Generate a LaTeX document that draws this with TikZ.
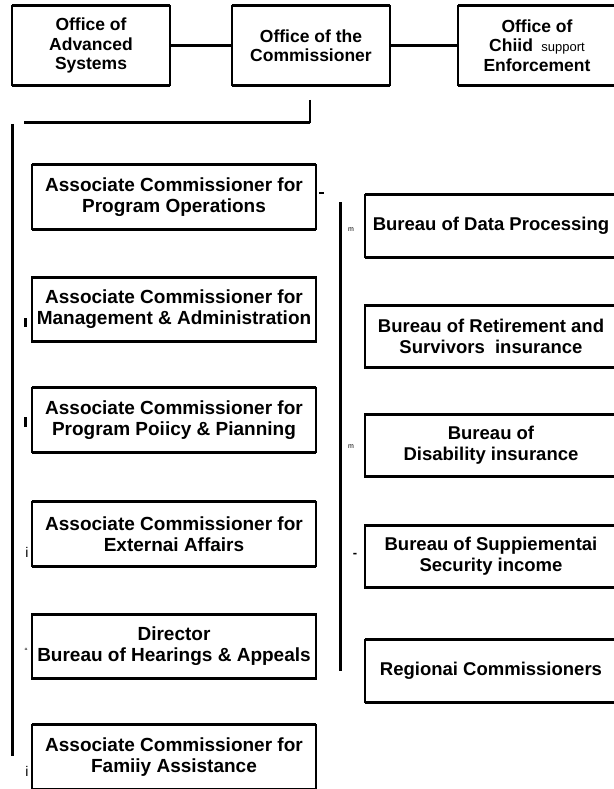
\documentclass[tikz,border=0pt]{standalone}
\usepackage{fontspec}
\setmainfont{Liberation Sans}
\begin{document}
\begin{tikzpicture}[x=1pt,y=-1pt,
    unit/.style={minimum width=284pt, minimum height=64pt, align=center, inner sep=0pt,
      font=\bfseries\fontsize{19}{21}\selectfont},
    bureau/.style={unit, minimum width=252pt, minimum height=62pt,
      font=\bfseries\fontsize{18.5}{21}\selectfont},
    office/.style={unit, minimum width=158pt, minimum height=79pt,
      font=\bfseries\fontsize{17.5}{19.5}\selectfont},
    rule/.style={line width=3pt},
    side/.style={line width=2pt},
    link/.style={line width=3pt},
    speck/.style={inner sep=0pt, font=\fontsize{7}{7}\selectfont}]
  \useasboundingbox (0,0) rectangle (613,789);

  % top row
  \node[office] (adv) at (91,45.5) {Office of\\Advanced\\Systems};
  \node[office] (comm) at (311,45.5) {Office of the\\Commissioner};
  \node[office] (cse) at (537,45.5) {Office of\\Chiid {\mdseries\fontsize{13}{19.5}\selectfont\ support}\\Enforcement};

  % associate commissioners
  \node[unit] (ops) at (174,197) {Associate Commissioner for\\Program Operations};
  \node[unit] (mgmt) at (174,309.5) {Associate Commissioner for\\Management \& Administration};
  \node[unit] (policy) at (174,420) {Associate Commissioner for\\Program Poiicy \& Pianning};
  \node[unit] (ext) at (174,534) {Associate Commissioner for\\Externai Affairs};
  \node[unit] (hear) at (174,646.5) {Director\\Bureau of Hearings \& Appeals};
  \node[unit] (fam) at (174,757) {Associate Commissioner for\\Famiiy Assistance};

  % bureaus
  \node[bureau] (bdp) at (491,226) {Bureau of Data Processing};
  \node[bureau] (rsi) at (491,336.5) {Bureau of Retirement and\\Survivors\ \ insurance};
  \node[bureau] (dis) at (491,445.5) {Bureau of\\Disability insurance};
  \node[bureau] (ssi) at (491,556.5) {Bureau of Suppiementai\\Security income};
  \node[bureau] (reg) at (491,671) {Regionai Commissioners};

  % box outlines
  \foreach \n in {adv,comm,cse,ops,mgmt,policy,ext,hear,fam,bdp,rsi,dis,ssi,reg} {
    \draw[side] (\n.north west) rectangle (\n.south east);
    \draw[rule] (\n.north west) -- (\n.north east);
    \draw[rule] (\n.south west) -- (\n.south east);
  }

  % connectors
  \draw[link] (adv.east) -- (comm.west);
  \draw[link] (comm.east) -- (cse.west);
  \coordinate (drop) at (310,100);
  \coordinate (joint) at (310,123);
  \coordinate (trunkend) at (24,123);
  \draw[side] (drop) -- (joint);
  \draw[link] (joint) -- (trunkend);
  \coordinate (lefttop) at (12,124);
  \coordinate (leftend) at (12,756);
  \draw[link] (lefttop) -- (leftend);
  \coordinate (righttop) at (340,202);
  \coordinate (rightend) at (340,671);
  \draw[link] (righttop) -- (rightend);
  \coordinate (stub) at (324,193);
  \draw[side] (319,193) -- (stub);

  % specks from the scan
  \node[speck] (m1) at (351,230) {m};
  \node[speck] (m2) at (351,447) {m};
  \node[speck, font=\bfseries\fontsize{13}{13}\selectfont] (dash) at (355,555) {-};
  \node[speck, font=\fontsize{14}{14}\selectfont] (i1) at (27,552) {i};
  \node[speck, font=\fontsize{14}{14}\selectfont] (i2) at (27,771) {i};
  \node[speck, font=\fontsize{9}{9}\selectfont] (q1) at (26,651) {``};
  \fill (24,318) rectangle (27,327);
  \fill (24,417) rectangle (27,427);
\end{tikzpicture}
\end{document}
